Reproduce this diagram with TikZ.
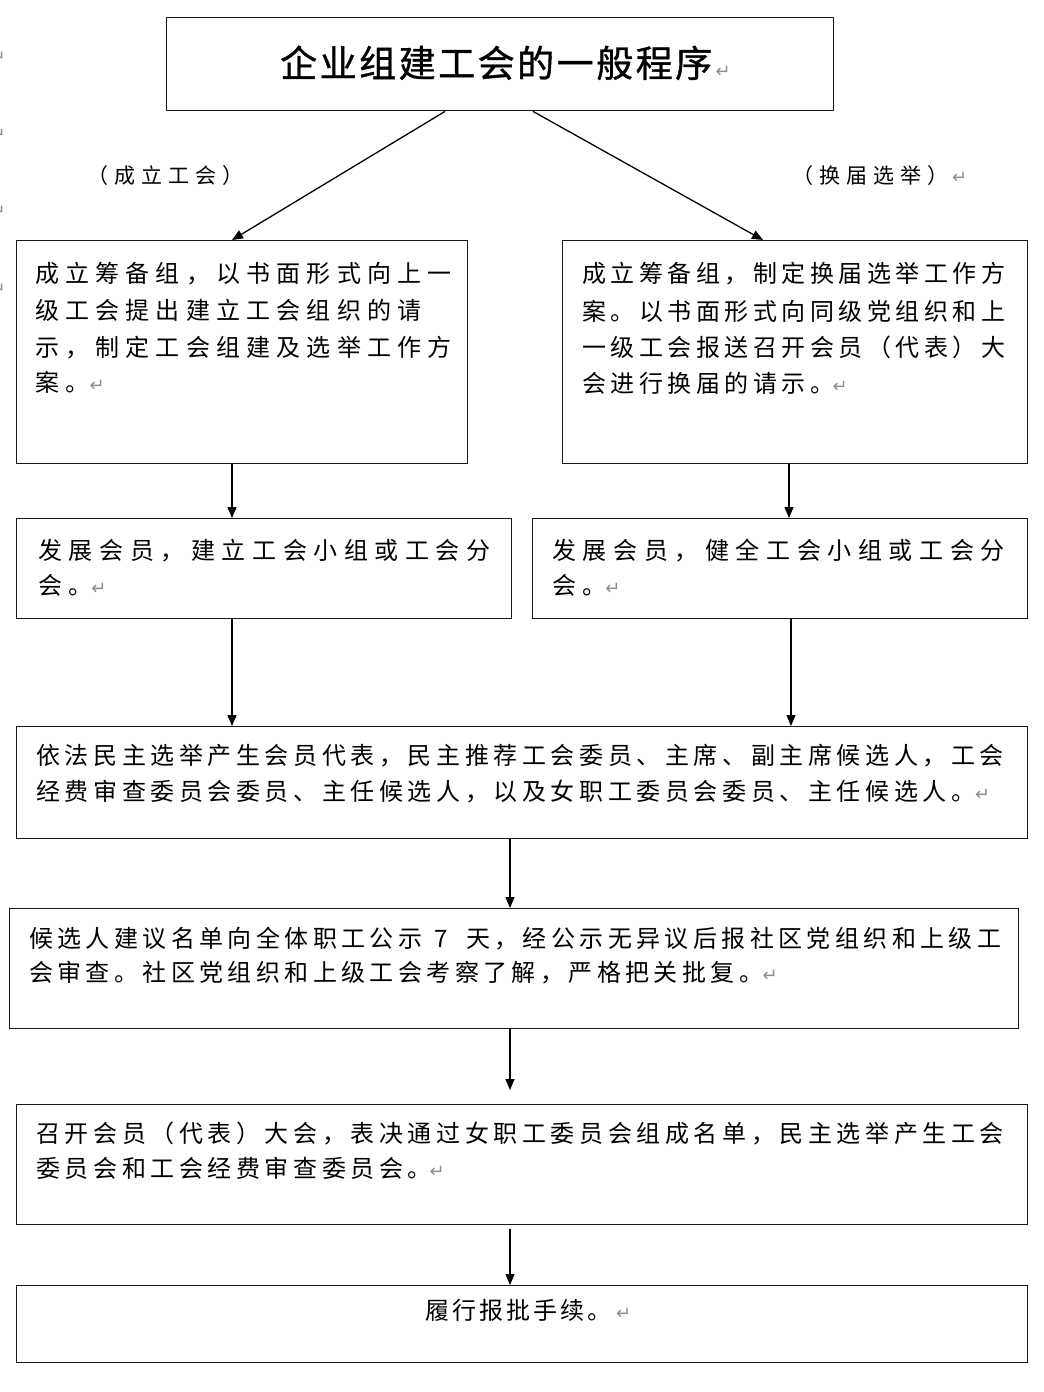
\documentclass[tikz,border=0pt]{standalone}
\usepackage{fontspec}
\newfontfamily\cjk{Noto Sans CJK SC}
\newfontfamily\cjkt[FakeBold=1]{Noto Sans CJK SC}
\newfontfamily\retfont{DejaVu Sans}
\usetikzlibrary{arrows.meta}
\newlength\cellw
\def\cellsA#1{\ifx\relax#1\else\makebox[\cellw][l]{#1}\expandafter\cellsA\fi}
\newcommand\cells[2]{\setlength\cellw{#1pt}\cellsA#2\relax}
\newcommand\ret[1][-4pt]{\hspace*{#1}{\retfont\fontsize{18}{18}\selectfont\color{black!45}↵}}
\tikzset{
  box/.style={draw=black!90, line width=1.4pt, inner sep=0pt, anchor=north west},
  txt/.style={inner sep=0pt, anchor=base west, font=\cjk\fontsize{24}{28}\selectfont},
  lbl/.style={inner sep=0pt, anchor=base west, font=\cjk\fontsize{21}{24}\selectfont},
  ttl/.style={inner sep=0pt, anchor=base west, font=\cjkt\fontsize{37}{40}\selectfont},
  arr/.style={line width=1.3pt, -{Triangle[length=11pt,width=9pt]}},
  edgemark/.style={inner sep=0pt, anchor=east, font=\retfont\fontsize{18}{18}\selectfont, text=black!45}
}
\begin{document}
\begin{tikzpicture}[x=1pt,y=-1pt]
\useasboundingbox (0,0) rectangle (1044,1392);
% edge marks (cut off at the page edge, as in the reference)
\node[edgemark] (m1) at (6,58) {↵};
\node[edgemark] (m2) at (6,135) {↵};
\node[edgemark] (m3) at (6,212) {↵};
\node[edgemark] (m4) at (6,290) {↵};
% boxes
\node[box, minimum width=667pt, minimum height=93pt] (title) at (166,17) {};
\node[box, minimum width=451pt, minimum height=223pt] (l1) at (16,240) {};
\node[box, minimum width=465pt, minimum height=223pt] (r1) at (562,240) {};
\node[box, minimum width=495pt, minimum height=100pt] (l2) at (16,518) {};
\node[box, minimum width=495pt, minimum height=100pt] (r2) at (532,518) {};
\node[box, minimum width=1011pt, minimum height=112pt] (b3) at (16,726) {};
\node[box, minimum width=1009pt, minimum height=120pt] (b4) at (9,908) {};
\node[box, minimum width=1011pt, minimum height=120pt] (b5) at (16,1104) {};
\node[box, minimum width=1011pt, minimum height=77pt] (b6) at (16,1285) {};
% title
\node[ttl] (tt) at (280,77) {\cells{39.5}{企业组建工会的一般程序}\ret[1pt]};
% labels
\node[lbl] (lab1) at (87,183) {\cells{27}{（成立工会）}};
\node[lbl] (lab2) at (792,183) {\cells{27}{（换届选举）}\ret[-2pt]};
% L1
\node[txt] (l1a) at (35,282) {\cells{30.2}{成立筹备组，以书面形式向上一}};
\node[txt] (l1b) at (35,319) {\cells{30.2}{级工会提出建立工会组织的请}};
\node[txt] (l1c) at (35,356) {\cells{30.2}{示，制定工会组建及选举工作方}};
\node[txt] (l1d) at (35,391) {\cells{30.2}{案。}\ret[-6pt]};
% R1
\node[txt] (r1a) at (582,282) {\cells{28.5}{成立筹备组，制定换届选举工作方}};
\node[txt] (r1b) at (582,320) {\cells{28.5}{案。以书面形式向同级党组织和上}};
\node[txt] (r1c) at (582,356) {\cells{28.5}{一级工会报送召开会员（代表）大}};
\node[txt] (r1d) at (582,392) {\cells{28.5}{会进行换届的请示。}\ret[-6pt]};
% L2 / R2
\node[txt] (l2a) at (38,559) {\cells{30.6}{发展会员，建立工会小组或工会分}};
\node[txt] (l2b) at (38,594) {\cells{30.6}{会。}\ret[-8pt]};
\node[txt] (r2a) at (552,559) {\cells{30.6}{发展会员，健全工会小组或工会分}};
\node[txt] (r2b) at (552,594) {\cells{30.6}{会。}\ret[-8pt]};
% B3
\node[txt] (b3a) at (36,764) {\cells{28.6}{依法民主选举产生会员代表，民主推荐工会委员、主席、副主席候选人，工会}};
\node[txt] (b3b) at (36,800) {\cells{28.6}{经费审查委员会委员、主任候选人，以及女职工委员会委员、主任候选人。}\ret[-5pt]};
% B4
\node[txt] (b4a) at (29,947) {\cells{28.4}{候选人建议名单向全体职工公示}\hspace*{8pt}7\hspace*{18pt}\cells{28.4}{天，经公示无异议后报社区党组织和上级工}};
\node[txt] (b4b) at (29,981) {\cells{28.4}{会审查。社区党组织和上级工会考察了解，严格把关批复。}\ret[-5pt]};
% B5
\node[txt] (b5a) at (36,1142) {\cells{28.6}{召开会员（代表）大会，表决通过女职工委员会组成名单，民主选举产生工会}};
\node[txt] (b5b) at (36,1177) {\cells{28.6}{委员会和工会经费审查委员会。}\ret[-7pt]};
% B6
\node[txt] (b6a) at (425,1319) {\cells{27}{履行报批手续。}\ret[2pt]};
% connector x positions
\coordinate (xa) at (445,0);
\coordinate (xb) at (533,0);
\coordinate (xL) at (232,0);
\coordinate (xR1) at (763,0);
\coordinate (xR2) at (789,0);
\coordinate (xR3) at (791,0);
\coordinate (xM) at (510,0);
% connectors
\draw[arr] (title.south -| xa) -- (l1.north -| xL);
\draw[arr] (title.south -| xb) -- (r1.north -| xR1);
\draw[arr] (l1.south -| xL) -- (l2.north -| xL);
\draw[arr] (r1.south -| xR2) -- (r2.north -| xR2);
\draw[arr] (l2.south -| xL) -- (b3.north -| xL);
\draw[arr] (r2.south -| xR3) -- (b3.north -| xR3);
\draw[arr] (b3.south -| xM) -- (b4.north -| xM);
\draw[arr, shorten >=14pt] (b4.south -| xM) -- (b5.north -| xM);
\draw[arr, shorten <=4pt] (b5.south -| xM) -- (b6.north -| xM);
\end{tikzpicture}
\end{document}
